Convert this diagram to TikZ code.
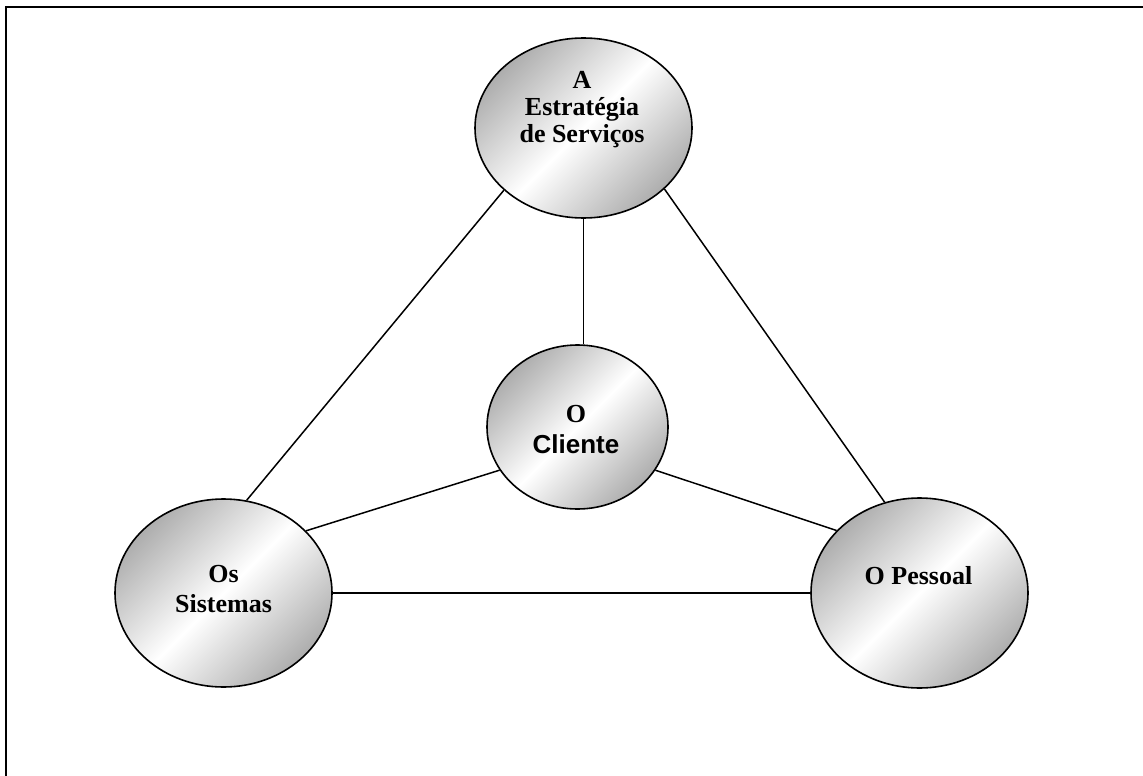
\documentclass[tikz,border=0pt]{standalone}
\usepackage{fontspec}
\setmainfont{Liberation Serif}
\setsansfont{Liberation Sans}
\usetikzlibrary{shapes.geometric}
\begin{document}
\begin{tikzpicture}[x=1pt,y=-1pt,
  bubble/.style={ellipse, draw=black, line width=1.6pt, inner sep=0pt,
    top color=black!32, bottom color=black!32, middle color=white, shading angle=45},
  caption/.style={font=\fontsize{26}{27}\selectfont\bfseries, align=center, inner sep=0pt},
  link/.style={draw=black, line width=1.5pt}]
\useasboundingbox (0,0) rectangle (1143,776);
% page frame (top and left edges)
\draw[line width=2.5pt] (6,776) -- (6,7) -- (1143,7);

% the four ellipses
\node[bubble, minimum width=217pt, minimum height=180pt] (strat) at (583.5,128) {};
\node[bubble, minimum width=181pt, minimum height=164pt] (cli) at (577.5,427) {};
\node[bubble, minimum width=217pt, minimum height=188pt] (sis) at (223.5,593) {};
\node[bubble, minimum width=217pt, minimum height=190pt] (pes) at (919.5,593) {};

% labels
\node[caption] (tstrat) at (582,110) {A\\Estratégia\\de Serviços};
\node[caption, font=\fontsize{26}{31}\selectfont\bfseries] (tcli) at (576,430) {O\\{\sffamily Cliente}};
\node[caption, font=\fontsize{26}{30}\selectfont\bfseries] (tsis) at (223.5,589.5) {Os\\Sistemas};
\node[caption] (tpes) at (918.5,575.5) {O Pessoal};

% connectors
\draw[link] (strat.218) -- (sis.76);
\draw[link] (strat.323) -- (pes.111);
\draw[link] (strat.south) -- (strat.south |- cli.north);
\draw[link] (cli.209) -- (sis.37);
\draw[link] (cli.331) -- (pes.143);
\draw[link] (sis.east) -- (pes.west);
\end{tikzpicture}
\end{document}
